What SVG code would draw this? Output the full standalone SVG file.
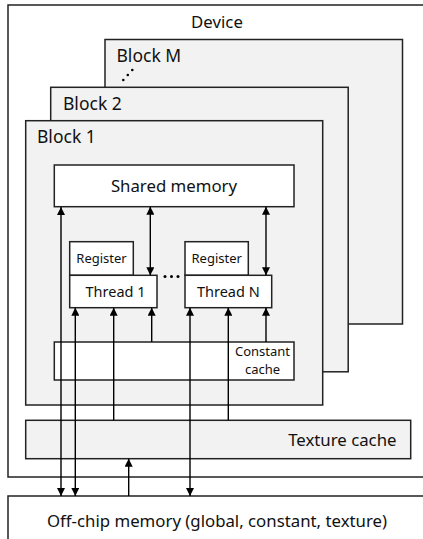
<svg xmlns="http://www.w3.org/2000/svg" width="423" height="539" viewBox="0 0 423 539">
  <defs>
    <marker id="arrow" viewBox="0 0 10 10" refX="10" refY="5" markerWidth="8" markerHeight="8" markerUnits="userSpaceOnUse" orient="auto-start-reverse">
      <path d="M0,0 L10,5 L0,10 Z" fill="#000"/>
    </marker>
  </defs>
  <style>
    text { font-family: "Noto Sans", "Open Sans", "Liberation Sans", sans-serif; fill: #111; }
    .box { stroke: #222; stroke-width: 1.5; }
    .white { fill: #fff; }
    .grey { fill: #f2f2f2; }
    .big { font-size: 16.8px; }
    .blk { font-size: 17.5px; }
    .mid { font-size: 14.5px; }
    .small { font-size: 13px; }
    .link { stroke: #000; stroke-width: 1.4; fill: none; }
  </style>
  <rect width="423" height="539" fill="#fff"/>

  <g id="device">
    <rect class="box white" x="8" y="5" width="430" height="472"/>
    <text class="big" x="217" y="28" text-anchor="middle">Device</text>
  </g>

  <g id="block-m">
    <rect class="box grey" x="105" y="39.5" width="297.5" height="284.5"/>
    <text class="blk" x="116.5" y="61.5">Block M</text>
    <circle cx="123.3" cy="80" r="1.3" fill="#000"/>
    <circle cx="127.8" cy="75" r="1.3" fill="#000"/>
    <circle cx="132.3" cy="70" r="1.3" fill="#000"/>
  </g>

  <g id="block-2">
    <rect class="box grey" x="50.7" y="87.3" width="297.5" height="284.5"/>
    <text class="blk" x="63" y="110">Block 2</text>
  </g>

  <g id="block-1">
    <rect class="box grey" x="25.7" y="120.7" width="297" height="284.3"/>
    <text class="blk" x="37" y="142.5">Block 1</text>
  </g>

  <g id="shared-memory">
    <rect class="box white" x="54.3" y="165" width="239.7" height="41.7"/>
    <text class="big" x="174" y="191.5" text-anchor="middle">Shared memory</text>
  </g>

  <g id="thread-1">
    <rect class="box white" x="69.7" y="241.7" width="63.6" height="33.6"/>
    <text class="small" x="101.5" y="263.3" text-anchor="middle">Register</text>
    <rect class="box white" x="69.7" y="275.3" width="87.3" height="32.4"/>
    <text class="mid" x="115.5" y="296.7" text-anchor="middle">Thread 1</text>
  </g>

  <g id="thread-dots">
    <circle cx="165" cy="276.5" r="1.5" fill="#000"/>
    <circle cx="171.5" cy="276.5" r="1.5" fill="#000"/>
    <circle cx="178" cy="276.5" r="1.5" fill="#000"/>
  </g>

  <g id="thread-n">
    <rect class="box white" x="185" y="241.7" width="63.3" height="33.6"/>
    <text class="small" x="216.7" y="263.3" text-anchor="middle">Register</text>
    <rect class="box white" x="185" y="275.3" width="86.7" height="32.4"/>
    <text class="mid" x="228.3" y="296.7" text-anchor="middle">Thread N</text>
  </g>

  <g id="constant-cache">
    <rect class="box white" x="54.3" y="342" width="239.7" height="38"/>
    <text class="small" x="262.5" y="356.3" text-anchor="middle">Constant</text>
    <text class="small" x="262.5" y="374.3" text-anchor="middle">cache</text>
  </g>

  <g id="texture-cache">
    <rect class="box grey" x="25.7" y="420.3" width="385" height="38.4"/>
    <text class="big" x="396.5" y="445.5" text-anchor="end">Texture cache</text>
  </g>

  <g id="off-chip-memory">
    <rect class="box white" x="8" y="496" width="430" height="60"/>
    <text class="big" x="217" y="527" text-anchor="middle">Off-chip memory (global, constant, texture)</text>
  </g>

  <g id="connectors">
    <!-- global memory paths: shared memory and threads to off-chip -->
    <line class="link" x1="61" y1="496" x2="61" y2="207" marker-start="url(#arrow)" marker-end="url(#arrow)"/>
    <line class="link" x1="75.3" y1="496" x2="75.3" y2="307.7" marker-start="url(#arrow)" marker-end="url(#arrow)"/>
    <line class="link" x1="190" y1="496" x2="190" y2="307.7" marker-start="url(#arrow)" marker-end="url(#arrow)"/>
    <!-- texture cache reads -->
    <line class="link" x1="113.7" y1="420.3" x2="113.7" y2="307.7" marker-end="url(#arrow)"/>
    <line class="link" x1="228.3" y1="420.3" x2="228.3" y2="307.7" marker-end="url(#arrow)"/>
    <line class="link" x1="128.7" y1="496" x2="128.7" y2="458.7" marker-end="url(#arrow)"/>
    <!-- constant cache reads -->
    <line class="link" x1="151.7" y1="342" x2="151.7" y2="307.7" marker-end="url(#arrow)"/>
    <line class="link" x1="266" y1="342" x2="266" y2="307.7" marker-end="url(#arrow)"/>
    <!-- shared memory to threads -->
    <line class="link" x1="150.3" y1="206.7" x2="150.3" y2="275.3" marker-start="url(#arrow)" marker-end="url(#arrow)"/>
    <line class="link" x1="266" y1="206.7" x2="266" y2="275.3" marker-start="url(#arrow)" marker-end="url(#arrow)"/>
  </g>
</svg>
